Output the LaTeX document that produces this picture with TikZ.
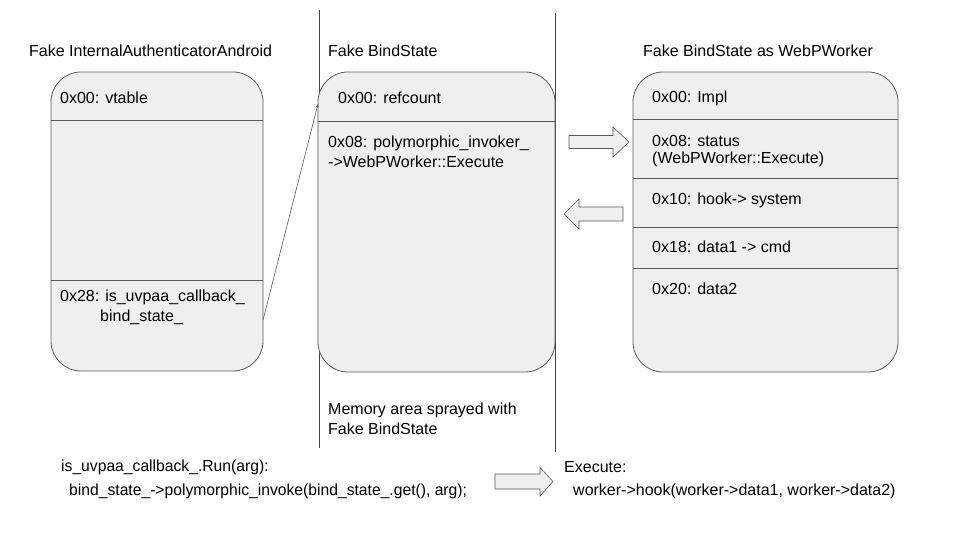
\documentclass[tikz,border=0pt]{standalone}
\usepackage{fontspec}
\setmainfont{Liberation Sans}
\newfontfamily\narrowsans[FakeStretch=0.98]{Liberation Sans}
\usetikzlibrary{arrows.meta}
\definecolor{boxfill}{HTML}{EFEFEF}
\definecolor{boxline}{HTML}{595959}
\definecolor{rule}{HTML}{434343}
\tikzset{
  memblock/.style={draw=boxline, fill=boxfill, rounded corners=30pt, line width=0.8pt},
  field/.style={anchor=west, inner sep=0pt, font=\fontsize{16}{19}\selectfont, align=left},
  label/.style={anchor=west, inner sep=0pt, font=\fontsize{16}{19}\selectfont, align=left},
  code/.style={anchor=west, inner sep=0pt, font=\fontsize{16}{19}\selectfont, align=left},
  narrowcode/.style={anchor=west, inner sep=0pt, font=\narrowsans\fontsize{16}{19}\selectfont, align=left},
  divider/.style={draw=boxline, line width=0.8pt},
  sep/.style={draw=rule, line width=0.8pt},
  blockarrow/.style={draw=boxline, fill=boxfill, line width=0.6pt, line join=miter},
  pointer/.style={draw=boxline, line width=0.6pt, -{Stealth[length=4pt,width=3pt]}}
}
\begin{document}
\begin{tikzpicture}[x=1pt,y=-1pt]
\useasboundingbox[fill=white] (0,0) rectangle (960,540);

% separators
\coordinate (s1t) at (319,10);
\coordinate (s1b) at (319,448);
\coordinate (s2t) at (555,13);
\coordinate (s2b) at (555,452);
\draw[sep] (s1t) -- (s1b);
\draw[sep] (s2t) -- (s2b);

% titles
\node[label] (t1) at (29,51) {Fake InternalAuthenticatorAndroid};
\node[label] (t2) at (328,51) {Fake BindState};
\node[label] (t3) at (643,51) {Fake BindState as WebPWorker};

% left block
\path[memblock] (51,72) rectangle (263,371);
\node[inner sep=0pt, minimum width=212pt, minimum height=299pt] (A) at (157,221.5) {};
\draw[divider] (51,120) -- (263,120);
\draw[divider] (51,280) -- (263,280);
\node[field] (a0) at (60,98) {0x00: vtable};
\node[field] (a28) at (60,297) {0x28: is\_uvpaa\_callback\_};
\node[field] (a28b) at (100,317) {bind\_state\_};

% middle block
\path[memblock] (318,72) rectangle (555,372);
\node[inner sep=0pt, minimum width=237pt, minimum height=300pt] (B) at (436.5,222) {};
\draw[divider] (318,121) -- (555,121);
\node[field] (b0) at (338,98) {0x00: refcount};
\node[field] (b8) at (328,143) {0x08: polymorphic\_invoker\_};
\node[field] (b8b) at (328,162) {->WebPWorker::Execute};
\node[label] (mem) at (328,410) {Memory area sprayed with};
\node[label] (memb) at (328,429) {Fake BindState};

% right block
\path[memblock] (633,72) rectangle (898,372);
\node[inner sep=0pt, minimum width=265pt, minimum height=300pt] (C) at (765.5,222) {};
\draw[divider] (633,119) -- (898,119);
\draw[divider] (633,178) -- (898,178);
\draw[divider] (633,227) -- (898,227);
\draw[divider] (633,268) -- (898,268);
\node[field] (c0) at (652,98) {0x00: Impl};
\node[field] (c8) at (652,141) {0x08: status};
\node[field] (c8b) at (652,159) {(WebPWorker::Execute)};
\node[field] (c10) at (652,200) {0x10: hook-> system};
\node[field] (c18) at (652,247) {0x18: data1 -> cmd};
\node[field] (c20) at (652,289) {0x20: data2};

% pointer from bind_state_ to fake BindState
\coordinate (pfrom) at (263,320);
\coordinate (pto) at (318,104);
\draw[pointer] (pfrom) -- (pto);

% block arrows
\draw[blockarrow] (569,135.5) -- (613,135.5) -- (613,127) -- (629,142) -- (613,157) -- (613,148.5) -- (569,148.5) -- cycle;
\draw[blockarrow] (623,207) -- (579,207) -- (579,199) -- (564,214) -- (579,229) -- (579,221) -- (623,221) -- cycle;
\draw[blockarrow] (495,474) -- (540,474) -- (540,467.5) -- (553,481.5) -- (540,496) -- (540,489) -- (495,489) -- cycle;

% bottom code
\node[narrowcode] (run) at (61,467) {is\_uvpaa\_callback\_.Run(arg):};
\node[narrowcode] (inv) at (69,491) {bind\_state\_->polymorphic\_invoke(bind\_state\_.get(), arg);};
\node[code] (ex) at (564,467) {Execute:};
\node[code] (hook) at (573,491) {worker->hook(worker->data1, worker->data2)};
\end{tikzpicture}
\end{document}
